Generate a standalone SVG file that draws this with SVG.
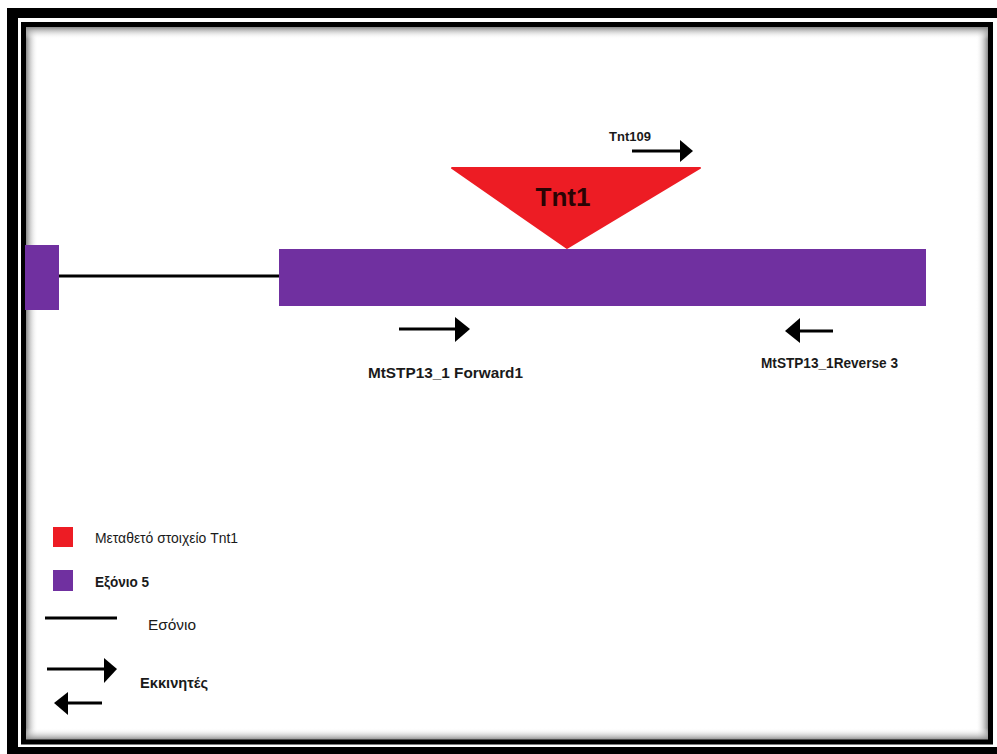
<svg xmlns="http://www.w3.org/2000/svg" width="997" height="754" viewBox="0 0 997 754">
<defs>
<style>
.b{font-family:"Liberation Sans",Arial,sans-serif;font-weight:bold;fill:#1a1a1a}
.r{font-family:"Liberation Sans",Arial,sans-serif;fill:#1a1a1a}
.ln{stroke:#000;stroke-width:3;fill:none}
.hd{fill:#000}
.pu{fill:#7030A0}
.rd{fill:#ED1C24}
</style>
<linearGradient id="gl" x1="0" y1="0" x2="1" y2="0"><stop offset="0" stop-color="#888"/><stop offset="1" stop-color="#fff" stop-opacity="0"/></linearGradient>
<linearGradient id="gr" x1="1" y1="0" x2="0" y2="0"><stop offset="0" stop-color="#888"/><stop offset="1" stop-color="#fff" stop-opacity="0"/></linearGradient>
<linearGradient id="gt" x1="0" y1="0" x2="0" y2="1"><stop offset="0" stop-color="#888"/><stop offset="1" stop-color="#fff" stop-opacity="0"/></linearGradient>
<linearGradient id="gb" x1="0" y1="1" x2="0" y2="0"><stop offset="0" stop-color="#888"/><stop offset="1" stop-color="#fff" stop-opacity="0"/></linearGradient>
</defs>
<g id="frame">
<rect x="7" y="8" width="1000" height="750" fill="#000"/>
<rect x="18" y="18" width="990" height="729" fill="#fff"/>
<rect x="26" y="27" width="12" height="713" fill="url(#gl)"/>
<rect x="976" y="27" width="12" height="713" fill="url(#gr)"/>
<rect x="26" y="27" width="962" height="12" fill="url(#gt)"/>
<rect x="26" y="728" width="962" height="12" fill="url(#gb)"/>
<rect x="23.5" y="24.5" width="967" height="717.5" fill="none" stroke="#000" stroke-width="5"/>
</g>
<g id="connectors">
<line class="ln" x1="59" y1="276" x2="279" y2="276"/>
</g>
<g id="exon-left"><rect class="pu" x="25" y="245" width="34" height="65"/></g>
<g id="exon5"><rect class="pu" x="279" y="249" width="647" height="57"/></g>
<g id="tnt1">
<polygon class="rd" points="452,168 700,168 567,248" stroke="#ED1C24" stroke-width="2" stroke-linejoin="round"/>
<text x="563" y="206" text-anchor="middle" font-size="26" class="b" style="fill:#2a0404" textLength="55" lengthAdjust="spacingAndGlyphs">Tnt1</text>
</g>
<g id="tnt109">
<text x="609" y="141" font-size="13" class="b">Tnt109</text>
<line class="ln" x1="632" y1="151" x2="682" y2="151"/>
<polygon class="hd" points="680,140 693,151 680,162"/>
</g>
<g id="forward1">
<line class="ln" x1="399" y1="329" x2="457" y2="329"/>
<polygon class="hd" points="455,317 470,329 455,342"/>
<text x="368" y="378" font-size="15" class="b" textLength="155" lengthAdjust="spacingAndGlyphs">MtSTP13_1 Forward1</text>
</g>
<g id="reverse3">
<polygon class="hd" points="785,331 800,318 800,343"/>
<line class="ln" x1="798" y1="331" x2="833" y2="331"/>
<text x="761" y="368" font-size="14" class="b" textLength="137" lengthAdjust="spacingAndGlyphs">MtSTP13_1Reverse 3</text>
</g>
<g id="legend">
<rect class="rd" x="53" y="527" width="20" height="20"/>
<text x="95" y="543" font-size="14" class="r" textLength="143" lengthAdjust="spacingAndGlyphs">Μεταθετό στοιχείο Tnt1</text>
<rect class="pu" x="53" y="570" width="20" height="21"/>
<text x="95" y="587" font-size="14" class="b" style="font-weight:600" textLength="54" lengthAdjust="spacingAndGlyphs">Εξόνιο 5</text>
<line class="ln" x1="45" y1="618" x2="117" y2="618"/>
<text x="148" y="630" font-size="15" class="r" textLength="48" lengthAdjust="spacingAndGlyphs">Εσόνιο</text>
<line class="ln" x1="47" y1="669" x2="106" y2="669"/>
<polygon class="hd" points="104,658 117,669 104,683"/>
<polygon class="hd" points="54,703 68,692 68,715"/>
<line class="ln" x1="66" y1="703" x2="102" y2="703"/>
<text x="140" y="688" font-size="15" class="b" textLength="68" lengthAdjust="spacingAndGlyphs">Εκκινητές</text>
</g>
</svg>
